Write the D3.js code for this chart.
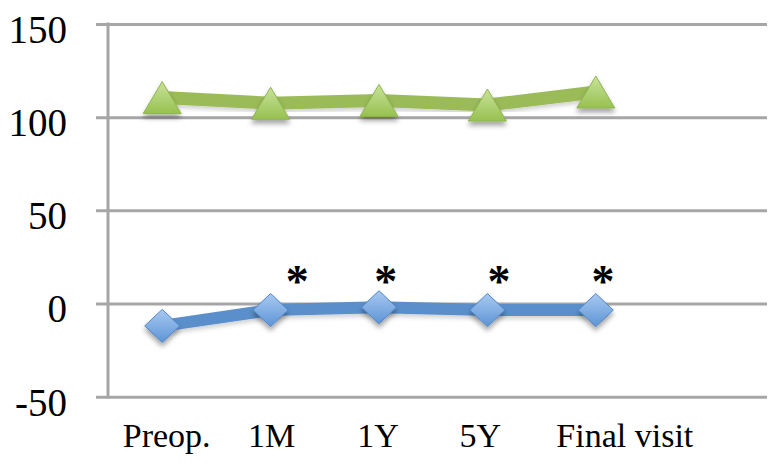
<!DOCTYPE html>
<html>
<head>
<meta charset="utf-8">
<script src="https://cdn.jsdelivr.net/npm/d3@7"></script>
<style>
  html, body { margin: 0; padding: 0; background: #ffffff; }
  svg { display: block; }
  text { font-family: "Liberation Serif", "Times New Roman", serif; fill: #000; }
</style>
</head>
<body>
<svg id="chart" width="775" height="470"></svg>
<script>
// ---- data ----
const categories = ["Preop.", "1M", "1Y", "5Y", "Final visit"];
const greenSeries = [110.5, 107.5, 109, 106.5, 113.5];
const blueSeries = [-12, -3.5, -2, -3.5, -3.5];
const significant = [false, true, true, true, true];
const yTicks = [-50, 0, 50, 100, 150];
const yTickLabels = ["-50", "0", "50", "100", "150"];

// ---- layout (not data) ----
const W = 775, H = 470;
const plotLeft = 108, plotTop = 24, plotBottom = 396.7, gridRight = 767;
const bandStep = 108.4;
const nBands = 6; // one empty slot on the right, as in the original
const labelDx = [4.5, 1, -1, -7, 29];
const starDx = [0, 26.7, 6.7, 11.7, 7.3];

const svg = d3.select("#chart");
const defs = svg.append("defs");

const gGrad = defs.append("linearGradient").attr("id", "gGrad")
  .attr("x1", 0).attr("y1", 0).attr("x2", 0).attr("y2", 1);
gGrad.append("stop").attr("offset", "0%").attr("stop-color", "#c9e29a");
gGrad.append("stop").attr("offset", "100%").attr("stop-color", "#97c151");

const bGrad = defs.append("linearGradient").attr("id", "bGrad")
  .attr("x1", 0).attr("y1", 0).attr("x2", 0).attr("y2", 1);
bGrad.append("stop").attr("offset", "0%").attr("stop-color", "#a9c9f0");
bGrad.append("stop").attr("offset", "100%").attr("stop-color", "#5d95d6");

const shadow = defs.append("filter").attr("id", "shadow")
  .attr("x", "-50%").attr("y", "-50%").attr("width", "200%").attr("height", "220%");
shadow.append("feDropShadow").attr("dx", 0).attr("dy", 4).attr("stdDeviation", 2.5)
  .attr("flood-color", "#000").attr("flood-opacity", 0.35);

const lineShadow = defs.append("filter").attr("id", "lshadow")
  .attr("x", "-10%").attr("y", "-50%").attr("width", "120%").attr("height", "200%");
lineShadow.append("feDropShadow").attr("dx", 0).attr("dy", 3).attr("stdDeviation", 2)
  .attr("flood-color", "#000").attr("flood-opacity", 0.18);

// ---- scales ----
const domainX = categories.concat([""]);
const x = d3.scaleBand().domain(domainX).range([plotLeft, plotLeft + bandStep * nBands]).padding(0);
const cx = c => x(c) + x.bandwidth() / 2;
const y = d3.scaleLinear().domain([-50, 150]).range([plotBottom, plotTop]);

// ---- y axis with gridlines ----
const yAxis = svg.append("g").attr("transform", `translate(${plotLeft},0)`)
  .call(d3.axisLeft(y).tickValues(yTicks).tickFormat((d, i) => yTickLabels[i])
    .tickSizeInner(-(gridRight - plotLeft)).tickSizeOuter(0).tickPadding(41));
yAxis.select(".domain").remove();
yAxis.selectAll(".tick line").attr("x1", -12)
  .attr("stroke", "#a6a6a6").attr("stroke-width", 3);
yAxis.selectAll(".tick text")
  .attr("font-size", 39).attr("font-family", '"Liberation Serif", "Times New Roman", serif')
  .attr("fill", "#000").attr("dy", "0.47em");

// vertical axis line
svg.append("line")
  .attr("x1", plotLeft).attr("x2", plotLeft)
  .attr("y1", y(150) - 1.5).attr("y2", y(-50) + 1.5)
  .attr("stroke", "#a6a6a6").attr("stroke-width", 3);

// ---- x axis labels ----
const xAxis = svg.append("g").attr("transform", `translate(0,${plotBottom})`)
  .call(d3.axisBottom(x).tickValues(categories).tickSize(0).tickPadding(0));
xAxis.select(".domain").remove();
xAxis.selectAll(".tick text")
  .attr("font-size", 34).attr("font-family", '"Liberation Serif", "Times New Roman", serif')
  .attr("fill", "#000").attr("y", 50).attr("dy", 0)
  .attr("dx", (d, i) => labelDx[i]);

// ---- lines ----
const line = d3.line().x((d, i) => cx(categories[i])).y(d => y(d));

svg.append("path").datum(greenSeries)
  .attr("d", line).attr("fill", "none")
  .attr("stroke", "#9bbb59").attr("stroke-width", 13)
  .attr("stroke-linejoin", "round").attr("filter", "url(#lshadow)");

svg.append("path").datum(blueSeries)
  .attr("d", line).attr("fill", "none")
  .attr("stroke", "#5a8fcb").attr("stroke-width", 12)
  .attr("stroke-linejoin", "round").attr("filter", "url(#lshadow)");

// ---- markers ----
const triPath = "M0,-16L19,16L-19,16Z";
const diaPath = "M0,-16.5L17.5,0L0,16.5L-17.5,0Z";

svg.append("g").selectAll("path").data(greenSeries).join("path")
  .attr("d", triPath)
  .attr("transform", (d, i) => `translate(${cx(categories[i])},${y(d)})`)
  .attr("fill", "url(#gGrad)").attr("stroke", "#8fb44f").attr("stroke-width", 1)
  .attr("filter", "url(#shadow)");

svg.append("g").selectAll("path").data(blueSeries).join("path")
  .attr("d", diaPath)
  .attr("transform", (d, i) => `translate(${cx(categories[i])},${y(d)})`)
  .attr("fill", "url(#bGrad)").attr("stroke", "#4f85c6").attr("stroke-width", 1)
  .attr("filter", "url(#shadow)");

// ---- significance asterisks ----
svg.append("g").selectAll("text")
  .data(categories.map((c, i) => ({ c, i, s: significant[i] })).filter(d => d.s))
  .join("text")
  .attr("x", d => cx(d.c) + starDx[d.i])
  .attr("y", y(0) - 7)
  .attr("text-anchor", "middle")
  .attr("font-size", 46)
  .attr("font-weight", "bold")
  .text("*");
</script>
</body>
</html>
